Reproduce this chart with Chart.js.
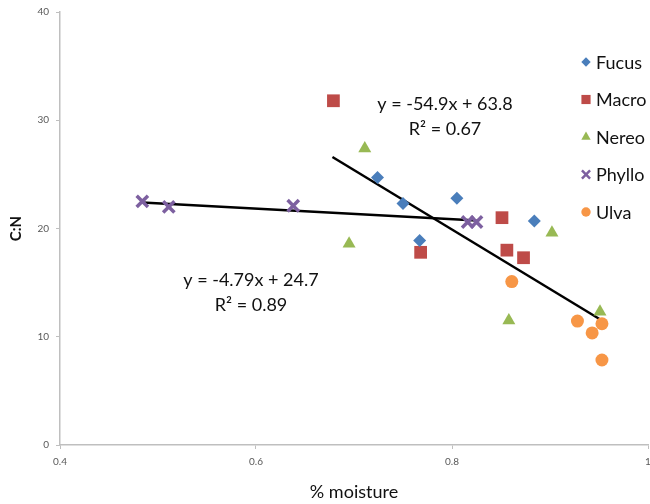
<!DOCTYPE html>
<html>
<head>
<meta charset="utf-8">
<script src="https://cdn.jsdelivr.net/npm/chart.js@4"></script>
<style>
  html, body { margin: 0; padding: 0; background: #fff; }
  #wrap { width: 650px; height: 504px; position: relative; }
</style>
</head>
<body>
<div id="wrap"><canvas id="chart"></canvas></div>
<script>
// % moisture (x) and C:N (y) per species
const fucusX  = [0.724, 0.750, 0.805, 0.767, 0.884];
const fucusY  = [24.7, 22.3, 22.8, 18.9, 20.7];
const macroX  = [0.679, 0.768, 0.851, 0.856, 0.873];
const macroY  = [31.8, 17.8, 21.0, 18.0, 17.3];
const nereoX  = [0.711, 0.695, 0.902, 0.858, 0.951];
const nereoY  = [27.4, 18.6, 19.6, 11.5, 12.3];
const phylloX = [0.484, 0.511, 0.638, 0.816, 0.825];
const phylloY = [22.5, 22.0, 22.1, 20.6, 20.6];
const ulvaX   = [0.861, 0.928, 0.943, 0.953, 0.953];
const ulvaY   = [15.1, 11.45, 10.35, 11.2, 7.85];

// linear trendlines (endpoints)
const trendAllX    = [0.678, 0.953];
const trendAllY    = [26.6, 11.5];
const trendPhylloX = [0.484, 0.825];
const trendPhylloY = [22.4, 20.75];

const xTicks = [0.4, 0.6, 0.8, 1];
const yTicks = [0, 10, 20, 30, 40];

const FONT = 'Lato, "Open Sans", sans-serif';

function pts(xs, ys) {
    return xs.map((x, i) => ({ x: x, y: ys[i] }));
}

const series = [
    { label: 'Fucus',  xs: fucusX,  ys: fucusY,  color: '#4a7ebb', style: 'rectRot',  r: 6.5 },
    { label: 'Macro',  xs: macroX,  ys: macroY,  color: '#be4b48', style: 'rect',     r: 9 },
    { label: 'Nereo',  xs: nereoX,  ys: nereoY,  color: '#98b954', style: 'triangle', r: 7.5 },
    { label: 'Phyllo', xs: phylloX, ys: phylloY, color: '#7d60a0', style: 'crossRot', r: 8 },
    { label: 'Ulva',   xs: ulvaX,   ys: ulvaY,   color: '#f79646', style: 'circle',   r: 6.5 }
];

const datasets = series.map(s => ({
    type: 'scatter',
    label: s.label,
    data: pts(s.xs, s.ys),
    pointStyle: s.style,
    pointRadius: s.r,
    pointHoverRadius: s.r,
    backgroundColor: s.color,
    borderColor: s.color,
    borderWidth: s.style === 'crossRot' ? 3.5 : 0
}));

[[trendAllX, trendAllY], [trendPhylloX, trendPhylloY]].forEach(([xs, ys]) => {
    datasets.push({
        type: 'line',
        label: 'trend',
        data: pts(xs, ys),
        borderColor: '#000',
        borderWidth: 2.5,
        pointRadius: 0,
        fill: false
    });
});

// equation labels and legend, drawn on top
const overlay = {
    id: 'overlay',
    afterDatasetsDraw(chart) {
        const ctx = chart.ctx;
        ctx.save();
        ctx.fillStyle = '#111';
        ctx.font = '18px ' + FONT;
        ctx.textAlign = 'center';
        ctx.textBaseline = 'middle';
        ctx.fillText('y = -54.9x + 63.8', 445, 104);
        ctx.fillText('R² = 0.67', 445, 129);
        ctx.fillText('y = -4.79x + 24.7', 251, 280);
        ctx.fillText('R² = 0.89', 251, 305);

        // legend
        const lx = 586, ly0 = 62, step = 37.5;
        series.forEach((s, i) => {
            const y = ly0 + i * step;
            ctx.fillStyle = s.color;
            ctx.strokeStyle = s.color;
            ctx.lineWidth = s.style === 'crossRot' ? 2.5 : 0;
            Chart.helpers.drawPoint(ctx, {
                pointStyle: s.style,
                radius: s.r * 0.72,
                borderWidth: s.style === 'crossRot' ? 2.5 : 0
            }, lx, y);
            ctx.fillStyle = '#111';
            ctx.textAlign = 'left';
            ctx.font = '18px ' + FONT;
            ctx.fillText(s.label, lx + 10, y + 1);
        });
        ctx.restore();
    }
};

new Chart(document.getElementById('chart'), {
    data: { datasets: datasets },
    options: {
        responsive: true,
        maintainAspectRatio: false,
        animation: false,
        layout: { autoPadding: false, padding: { top: 12, right: 2, left: 0, bottom: 0 } },
        plugins: {
            legend: { display: false },
            tooltip: { enabled: false }
        },
        scales: {
            x: {
                type: 'linear',
                min: 0.4,
                max: 1,
                afterBuildTicks: (scale) => { scale.ticks = xTicks.map(v => ({ value: v })); },
                afterFit: (scale) => {
                    scale.height = 59;
                    scale.paddingLeft = 0;
                    scale.paddingRight = 0;
                },
                border: { color: '#bfbfbf', width: 1.5 },
                grid: { drawOnChartArea: false, drawTicks: true, tickLength: 4, color: '#bfbfbf' },
                ticks: {
                    padding: 7,
                    color: '#595959',
                    font: { family: FONT, size: 10 },
                    maxRotation: 0,
                    callback: (v) => String(+v.toFixed(1))
                },
                title: {
                    display: true,
                    text: '% moisture',
                    color: '#111',
                    font: { family: FONT, size: 18 },
                    padding: { top: 0, bottom: 1 }
                }
            },
            y: {
                min: 0,
                max: 40,
                afterBuildTicks: (scale) => { scale.ticks = yTicks.map(v => ({ value: v })); },
                afterFit: (scale) => {
                    scale.width = 60;
                    scale.paddingTop = 0;
                    scale.paddingBottom = 0;
                },
                border: { color: '#bfbfbf', width: 1.5 },
                grid: { drawOnChartArea: false, drawTicks: true, tickLength: 4, color: '#bfbfbf' },
                ticks: {
                    padding: 7,
                    color: '#595959',
                    font: { family: FONT, size: 10 }
                },
                title: {
                    display: true,
                    text: 'C:N',
                    color: '#111',
                    font: { family: FONT, size: 15, weight: 'bold' },
                    padding: { top: 7, bottom: 0 }
                }
            }
        }
    },
    plugins: [overlay]
});
</script>
</body>
</html>
